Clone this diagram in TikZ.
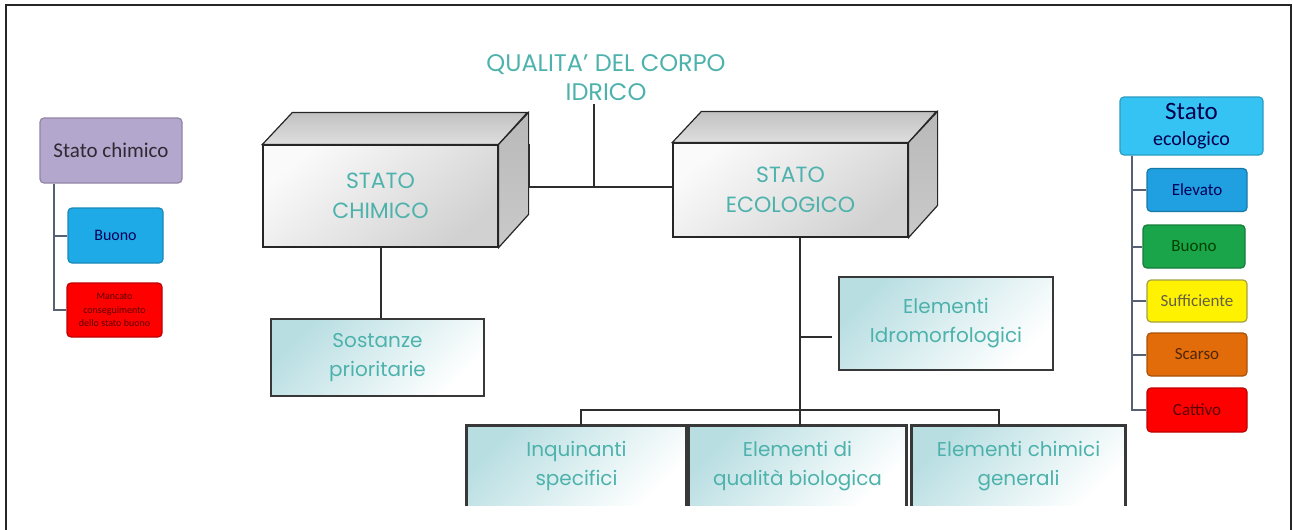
\documentclass[tikz,border=0pt]{standalone}
\usepackage{fontspec}
\setmainfont{Carlito}
\newfontfamily\tealfont{Poppins}
\usepackage{xcolor}
\usepackage{tikz}
\usetikzlibrary{calc}
\definecolor{tealtext}{RGB}{78,178,172}
\definecolor{elemtint}{RGB}{184,222,226}
\definecolor{legendgray}{RGB}{88,96,116}
\definecolor{lilac}{RGB}{180,167,205}
\definecolor{skyblue}{RGB}{30,170,230}
\definecolor{lightsky}{RGB}{53,195,243}
\definecolor{midblue}{RGB}{32,160,224}
\definecolor{leafgreen}{RGB}{26,165,75}
\definecolor{burnt}{RGB}{227,108,10}
\tikzset{
  titletext/.style={
    align=center, text=tealtext, font=\tealfont\fontsize{24}{29}\selectfont
  },
  cubefront/.style={
    draw=black!85, line width=1.2pt, align=center, inner sep=0pt,
    minimum width=235pt, minimum height=102pt, text=tealtext,
    font=\tealfont\fontsize{22}{30}\selectfont,
    top color=gray!4, bottom color=gray!36, shading angle=40
  },
  cubetop/.style={
    draw=black!85, line width=1.2pt, top color=gray!48, bottom color=gray!26
  },
  cubeside/.style={
    draw=black!85, line width=1.2pt, top color=gray!55, bottom color=gray!42
  },
  elembox/.style={
    draw=black!78, line width=2.6pt, align=center, inner sep=0pt,
    text=tealtext, font=\tealfont\fontsize{20}{29}\selectfont,
    top color=elemtint, bottom color=white, shading angle=45
  },
  elemopen/.style={elembox, draw=none},
  elemedge/.style={black!78, line width=2.6pt},
  treeline/.style={black!82, line width=2pt},
  legendbox/.style={
    draw, rounded corners=4pt, line width=1.2pt, align=center,
    inner sep=0pt, minimum width=100pt, minimum height=43pt,
    font=\fontsize{17}{20}\selectfont
  },
  legendline/.style={legendgray, line width=2pt},
}
\begin{document}
\begin{tikzpicture}[x=1pt, y=-1pt]
  \useasboundingbox (0,0) rectangle (1293,530);
  % Frame (open at the bottom)
  \draw[line width=1.6pt, black!85] (6,530) -- (6,5) -- (1291,5) -- (1291,530);

  % Title
  \node[titletext] (title) at (606,77.5) {QUALITA’ DEL CORPO\\IDRICO};

  % Stato chimico block
  \node[cubefront] (chimico) at (380.5,196) {STATO\\CHIMICO};
  \path[cubetop] (chimico.north west) -- ++(30,-32) -- ++(235,0)
    -- (chimico.north east) -- cycle;
  \path[cubeside] (chimico.north east) -- ++(30,-32) -- ++(0,102)
    -- (chimico.south east) -- cycle;

  % Stato ecologico block
  \node[cubefront, minimum height=94pt] (ecologico) at (790.5,190) {STATO\\ECOLOGICO};
  \path[cubetop] (ecologico.north west) -- ++(29,-31) -- ++(235,0)
    -- (ecologico.north east) -- cycle;
  \path[cubeside] (ecologico.north east) -- ++(29,-31) -- ++(0,94)
    -- (ecologico.south east) -- cycle;

  % Second level
  \node[elembox, minimum width=213pt, minimum height=77pt] (sostanze)
    at (377.5,357.5) {Sostanze\\prioritarie};
  \node[elembox, minimum width=214pt, minimum height=93pt] (idro)
    at (946,323.5) {Elementi\\Idromorfologici};

  % Bottom row (cut at the lower edge)
  \node[elemopen, minimum width=217pt, minimum height=78pt] (inquin)
    at (576.5,466) {Inquinanti\\specifici};
  \node[elemopen, minimum width=215pt, minimum height=78pt] (biolog)
    at (797.5,466) {Elementi di\\qualità biologica};
  \node[elemopen, minimum width=211pt, minimum height=78pt] (chimgen)
    at (1018.5,466) {Elementi chimici\\generali};
  \foreach \n in {inquin, biolog, chimgen}
    \draw[elemedge] (\n.south west) -- (\n.north west) -- (\n.north east) -- (\n.south east);

  % Connectors
  \coordinate (junc) at (594,187);
  \coordinate (ecoljunc) at (800,410);
  \coordinate (barL) at (581,410);
  \coordinate (barR) at (999,410);
  \coordinate (idrotick) at ([shift={(-6pt,-13pt)}]idro.west);
  \draw[treeline] (title.south -| junc) -- (junc);
  \draw[treeline] ($(chimico.north east)+(30,0)$) |- (junc) -- (ecologico.west |- junc);
  \draw[treeline] (chimico.south) -- (chimico.south |- sostanze.north);
  \draw[treeline] (ecologico.south -| ecoljunc) -- (ecoljunc);
  \draw[treeline] (ecoljunc |- idrotick) -- (idrotick);
  \draw[treeline] (barL |- inquin.north) -- (barL) -- (barR) -- (barR |- chimgen.north);
  \draw[treeline] (ecoljunc) -- (ecoljunc |- biolog.north);

  % Left legend
  \node[legendbox, fill=lilac, draw=lilac!80!black, minimum width=142pt,
    minimum height=65pt, text=black!75!lilac, font=\fontsize{21}{24}\selectfont]
    (stchim) at (111,150.5) {Stato chimico};
  \node[legendbox, fill=skyblue, draw=skyblue!80!black, minimum width=95pt,
    minimum height=55pt, text=blue!35!black, font=\fontsize{16}{19}\selectfont]
    (buonochim) at (115.5,235.5) {Buono};
  \node[legendbox, fill=red, draw=red!75!black, minimum width=95pt,
    minimum height=54pt, text=red!35!black, font=\fontsize{10}{13.5}\selectfont]
    (nonbuono) at (114.5,310) {Mancato\\conseguimento\\dello stato buono};
  \draw[legendline] ($(stchim.south west)+(15,0)$) |- (buonochim.west);
  \draw[legendline] ($(stchim.south west)+(15,0)$) |- (nonbuono.west);

  % Right legend
  \node[legendbox, fill=lightsky, draw=lightsky!80!black, minimum width=143pt,
    minimum height=58pt, text=blue!30!black, font=\fontsize{20}{26}\selectfont]
    (stecol) at (1191.5,126) {{\fontsize{25}{26}\selectfont Stato}\\ecologico};
  \node[legendbox, fill=midblue, draw=midblue!75!black, text=blue!35!black]
    (elevato) at (1197,190) {Elevato};
  \node[legendbox, fill=leafgreen, draw=leafgreen!75!black, minimum width=102pt,
    text=green!25!black] (buonoecol) at (1194,246.5) {Buono};
  \node[legendbox, fill=yellow, draw=yellow!60!black, minimum height=42pt,
    text=black!70!yellow] (suff) at (1197,301) {Sufficiente};
  \node[legendbox, fill=burnt, draw=burnt!75!black, text=burnt!35!black]
    (scarso) at (1197,354.5) {Scarso};
  \node[legendbox, fill=red, draw=red!75!black, minimum height=44pt,
    text=red!35!black] (cattivo) at (1197,410) {Cattivo};
  \foreach \n in {elevato, buonoecol, suff, scarso, cattivo}
    \draw[legendline] ($(stecol.south west)+(13,0)$) |- (\n.west);
\end{tikzpicture}
\end{document}
